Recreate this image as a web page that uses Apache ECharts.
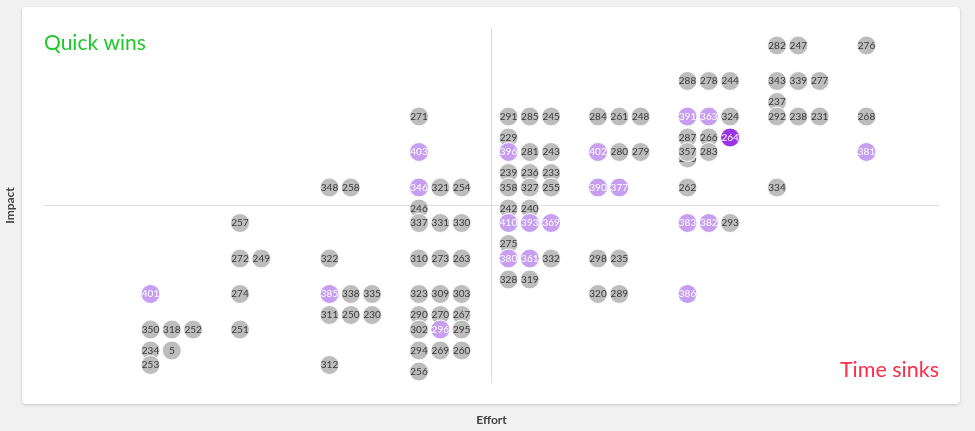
<!DOCTYPE html>
<html lang="en">
    <head>
        <meta charset="UTF-8">
        <title>Impact / Effort</title>
        <script src="https://cdn.jsdelivr.net/npm/echarts@6/dist/echarts.min.js"></script>
        <style>
            html, body { margin: 0; padding: 0; background: #f1f1f1; }
            #Main { width: 975px; height: 431px; }
        </style>
    </head>
    <body>
        <div id="Main"></div>

        <script type="text/javascript">
            // one entry per idea: label, effort column, impact row
            var ids = [
                '282', '247', '276',
                '288', '278', '244', '343', '339', '277', '237',
                '271', '291', '285', '245', '229', '284', '261', '248', '391', '363', '324', '287', '266', '264', '286', '292', '238', '231', '268',
                '403', '396', '281', '243', '239', '236', '233', '402', '280', '279', '357', '283', '381',
                '348', '258', '346', '321', '254', '246', '358', '327', '255', '242', '240', '390', '377', '262', '334',
                '257', '337', '331', '330', '410', '393', '369', '275', '383', '382', '293',
                '272', '249', '322', '310', '273', '263', '380', '361', '332', '328', '319', '298', '235',
                '401', '274', '385', '338', '335', '311', '250', '230', '323', '309', '303', '290', '270', '267', '320', '289', '386',
                '350', '318', '252', '234', '5', '251', '302', '296', '295', '294', '269', '260', '256',
                '253', '312'
            ];
            var effort = [
                8, 8, 9,
                7, 7, 7, 8, 8, 8, 8,
                4, 5, 5, 5, 5, 6, 6, 6, 7, 7, 7, 7, 7, 7, 7, 8, 8, 8, 9,
                4, 5, 5, 5, 5, 5, 5, 6, 6, 6, 7, 7, 9,
                3, 3, 4, 4, 4, 4, 5, 5, 5, 5, 5, 6, 6, 7, 8,
                2, 4, 4, 4, 5, 5, 5, 5, 7, 7, 7,
                2, 2, 3, 4, 4, 4, 5, 5, 5, 5, 5, 6, 6,
                1, 2, 3, 3, 3, 3, 3, 3, 4, 4, 4, 4, 4, 4, 6, 6, 7,
                1, 1, 1, 1, 1, 2, 4, 4, 4, 4, 4, 4, 4,
                1, 3
            ];
            var impact = [
                10, 10, 10,
                9, 9, 9, 9, 9, 9, 9,
                8, 8, 8, 8, 8, 8, 8, 8, 8, 8, 8, 8, 8, 8, 8, 8, 8, 8, 8,
                7, 7, 7, 7, 7, 7, 7, 7, 7, 7, 7, 7, 7,
                6, 6, 6, 6, 6, 6, 6, 6, 6, 6, 6, 6, 6, 6, 6,
                5, 5, 5, 5, 5, 5, 5, 5, 5, 5, 5,
                4, 4, 4, 4, 4, 4, 4, 4, 4, 4, 4, 4, 4,
                3, 3, 3, 3, 3, 3, 3, 3, 3, 3, 3, 3, 3, 3, 3, 3, 3,
                2, 2, 2, 2, 2, 2, 2, 2, 2, 2, 2, 2, 2,
                1, 1
            ];
            var highlighted = ['391', '363', '403', '396', '402', '381', '346', '390', '377', '410',
                '393', '369', '383', '382', '380', '361', '401', '385', '386', '296'];
            var selected = ['264'];

            var myChart = echarts.init(document.getElementById('Main'));

            // lay the ideas of one cell out in rows of three from its top-left corner,
            // one series per impact row so lower rows sit on top of the rows above
            var slots = {};
            var rows = {};
            for (var i = 0; i < ids.length; i++) {
                var key = effort[i] + '_' + impact[i];
                var n = slots[key] || 0;
                slots[key] = n + 1;
                var fill = '#bdbdbd', txt = '#3a3a3a';
                if (highlighted.indexOf(ids[i]) >= 0) { fill = '#c79ff0'; txt = '#ffffff'; }
                if (selected.indexOf(ids[i]) >= 0) { fill = '#9933e6'; txt = '#ffffff'; }
                if (!rows[impact[i]]) rows[impact[i]] = [];
                rows[impact[i]].push({
                    name: ids[i],
                    value: [effort[i], impact[i]],
                    symbolOffset: [17 + 21.3 * (n % 3), 17.5 + 21 * Math.floor(n / 3)],
                    itemStyle: { color: fill },
                    label: { color: txt }
                });
            }

            var series = [{
                type: 'scatter', data: [], silent: true, z: 1,
                markLine: {
                    silent: true, symbol: 'none',
                    label: { show: false },
                    lineStyle: { color: '#dedede', width: 1, type: 'solid' },
                    data: [{ xAxis: 5 }, { yAxis: 5 }]
                }
            }];
            for (var r = 10; r >= 1; r--) {
                if (!rows[r]) continue;
                series.push({
                    type: 'scatter', z: 3 + (10 - r),
                    symbol: 'circle', symbolSize: 19,
                    itemStyle: { borderColor: '#ffffff', borderWidth: 1, opacity: 1 },
                    label: {
                        show: true, position: 'inside',
                        formatter: '{b}',
                        fontFamily: 'Lato', fontSize: 10
                    },
                    data: rows[r]
                });
            }

            myChart.setOption({
                animation: false,
                backgroundColor: '#f1f1f1',
                grid: { left: 44, right: 36, top: 28, bottom: 48, containLabel: false, outerBoundsMode: 'none' },
                graphic: [
                    {
                        type: 'rect', z: -10, silent: true,
                        shape: { x: 22, y: 7, width: 938, height: 397, r: 4 },
                        style: { fill: '#ffffff', shadowColor: 'rgba(0,0,0,0.18)', shadowBlur: 3, shadowOffsetY: 1 }
                    },
                    {
                        type: 'text', x: 44, y: 43, silent: true,
                        style: { text: 'Quick wins', fill: '#1cc828', font: '21px Lato', verticalAlign: 'middle' }
                    },
                    {
                        type: 'text', x: 939, y: 370, silent: true,
                        style: { text: 'Time sinks', fill: '#ff2b48', font: '21.5px Lato', align: 'right', verticalAlign: 'middle' }
                    }
                ],
                xAxis: {
                    type: 'value', min: 0, max: 10,
                    name: 'Effort', nameLocation: 'middle', nameGap: 31,
                    nameTextStyle: { fontFamily: 'Lato', fontWeight: 'bold', fontSize: 12, color: '#444' },
                    axisLine: { show: false }, axisTick: { show: false },
                    axisLabel: { show: false }, splitLine: { show: false }
                },
                yAxis: {
                    type: 'value', min: 0, max: 10,
                    name: 'Impact', nameLocation: 'middle', nameGap: 28,
                    nameTextStyle: { fontFamily: 'Lato', fontWeight: 'bold', fontSize: 12, color: '#444' },
                    axisLine: { show: false }, axisTick: { show: false },
                    axisLabel: { show: false }, splitLine: { show: false }
                },
                series: series
            });
        </script>
    </body>
</html>
